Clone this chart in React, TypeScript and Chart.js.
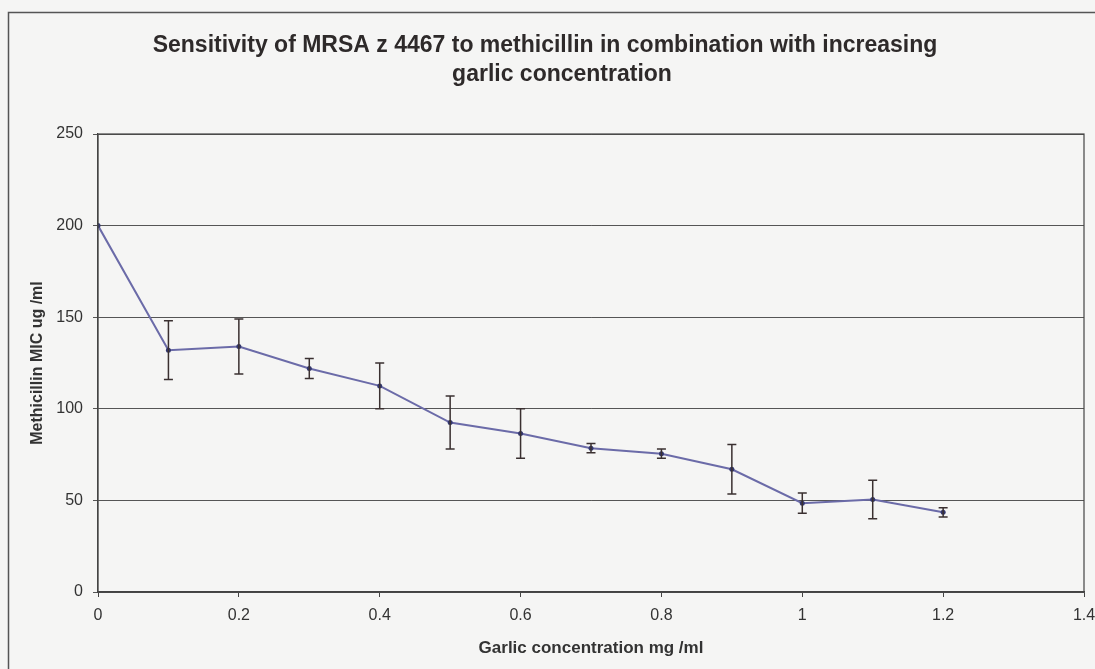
import React, { useEffect, useRef } from "react";
import { Chart, registerables } from "chart.js";

Chart.register(...registerables);

const garlicConc = [0, 0.1, 0.2, 0.3, 0.4, 0.5, 0.6, 0.7, 0.8, 0.9, 1.0, 1.1, 1.2];
const micMean = [200, 132, 134, 122, 112.5, 92.5, 86.5, 78.5, 75.5, 67, 48.5, 50.5, 43.5];
const micErr = [0, 16, 15, 5.5, 12.5, 14.5, 13.5, 2.5, 2.5, 13.5, 5.5, 10.5, 2.5];

const titleLines = [
  "Sensitivity of MRSA z 4467 to methicillin in combination with increasing",
  "garlic concentration",
];
const xTitle = "Garlic concentration mg /ml";
const yTitle = "Methicillin MIC ug /ml";

const FONT = "'Liberation Sans', Arial, sans-serif";
const BG = "#f5f5f4";

const bgPlugin = {
  id: "bgFrame",
  beforeDraw(chart: any) {
    const { ctx, width, height } = chart;
    ctx.save();
    ctx.fillStyle = BG;
    ctx.fillRect(0, 0, width, height);
    ctx.strokeStyle = "#555";
    ctx.lineWidth = 1.5;
    ctx.beginPath();
    ctx.moveTo(8.5, height);
    ctx.lineTo(8.5, 12.5);
    ctx.lineTo(width, 12.5);
    ctx.stroke();
    ctx.restore();
  },
  afterDraw(chart: any) {
    const { ctx, chartArea } = chart;
    ctx.save();
    ctx.strokeStyle = "#444";
    ctx.lineWidth = 1.2;
    ctx.strokeRect(chartArea.left, chartArea.top, chartArea.right - chartArea.left, chartArea.bottom - chartArea.top);
    ctx.fillStyle = "#2e2a2a";
    ctx.font = `bold 23px ${FONT}`;
    ctx.textAlign = "center";
    ctx.textBaseline = "middle";
    ctx.fillText(titleLines[0], 545, 46);
    ctx.fillText(titleLines[1], 562, 75);
    ctx.restore();
  },
};

const errorBarPlugin = {
  id: "errorBars",
  afterDatasetsDraw(chart: any) {
    const { ctx, scales } = chart;
    const xs = scales.x;
    const ys = scales.y;
    ctx.save();
    ctx.strokeStyle = "#3a3030";
    ctx.lineWidth = 1.5;
    garlicConc.forEach((xv, i) => {
      const e = micErr[i];
      if (!e) return;
      const px = xs.getPixelForValue(xv);
      const top = ys.getPixelForValue(micMean[i] + e);
      const bot = ys.getPixelForValue(micMean[i] - e);
      ctx.beginPath();
      ctx.moveTo(px, top);
      ctx.lineTo(px, bot);
      ctx.moveTo(px - 4.5, top);
      ctx.lineTo(px + 4.5, top);
      ctx.moveTo(px - 4.5, bot);
      ctx.lineTo(px + 4.5, bot);
      ctx.stroke();
    });
    ctx.restore();
  },
};

export default function App() {
  const ref = useRef<HTMLCanvasElement | null>(null);

  useEffect(() => {
    document.body.style.margin = "0";
    document.body.style.background = BG;
    if (!ref.current) return;
    const chart = new Chart(ref.current, {
      type: "scatter",
      data: {
        datasets: [
          {
            label: "MIC",
            data: garlicConc.map((x, i) => ({ x, y: micMean[i] })),
            showLine: true,
            borderColor: "#6b6ba8",
            borderWidth: 2,
            pointRadius: 2.5,
            pointBackgroundColor: "#34386e",
            pointBorderColor: "#34386e",
            pointBorderWidth: 0,
          },
        ],
      },
      options: {
        animation: false,
        responsive: false,
        maintainAspectRatio: false,
        layout: { padding: { left: 18, right: 0, top: 134, bottom: 0 } },
        plugins: {
          legend: { display: false },
          tooltip: { enabled: false },
          title: { display: false },
        },
        scales: {
          x: {
            type: "linear",
            min: 0,
            max: 1.4,
            afterFit(scale: any) {
              scale.height = 77;
              scale.paddingRight = 11;
            },
            ticks: {
              stepSize: 0.2,
              color: "#333",
              padding: 9,
              font: { family: FONT, size: 16 },
              callback: (v: any) => String(Math.round(Number(v) * 10) / 10),
            },
            grid: {
              display: true,
              drawOnChartArea: false,
              drawTicks: true,
              tickLength: 5,
              color: "#444",
            },
            border: { display: true, color: "#444", width: 1.2 },
            title: {
              display: true,
              text: xTitle,
              color: "#333",
              font: { family: FONT, size: 17, weight: "bold" },
              padding: { top: 4, bottom: 10 },
            },
          },
          y: {
            type: "linear",
            min: 0,
            max: 250,
            afterFit(scale: any) {
              scale.width = 80;
            },
            ticks: {
              stepSize: 50,
              color: "#333",
              padding: 10,
              font: { family: FONT, size: 16 },
            },
            grid: {
              display: true,
              drawOnChartArea: true,
              drawTicks: true,
              tickLength: 5,
              color: "#555",
              lineWidth: 1,
            },
            border: { display: true, color: "#444", width: 1.2 },
            title: {
              display: true,
              text: yTitle,
              color: "#333",
              font: { family: FONT, size: 16, weight: "bold" },
              padding: { top: 10, bottom: 4 },
            },
          },
        },
      },
      plugins: [bgPlugin, errorBarPlugin],
    });
    return () => chart.destroy();
  }, []);

  return (
    <div style={{ width: 1095, height: 669 }}>
      <canvas ref={ref} width={1095} height={669} style={{ display: "block" }} />
    </div>
  );
}
